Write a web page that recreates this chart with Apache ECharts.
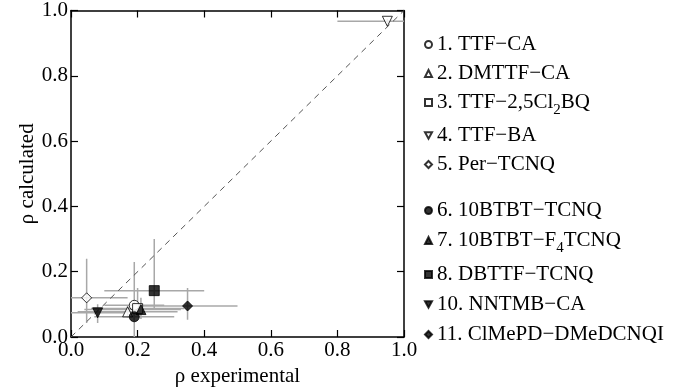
<!DOCTYPE html>
<html>
<head>
<meta charset="utf-8">
<script src="https://cdn.jsdelivr.net/npm/echarts@6/dist/echarts.min.js"></script>
<style>html,body{margin:0;padding:0;background:#fff}#chartmain{width:700px;height:392px}</style>
</head>
<body>
<div id="chartmain"></div>
<script>
// compound names, legend order
var names = ['1. TTF−CA', '2. DMTTF−CA', '3. TTF−2,5Cl2BQ', '4. TTF−BA', '5. Per−TCNQ',
             '6. 10BTBT−TCNQ', '7. 10BTBT−F4TCNQ', '8. DBTTF−TCNQ', '10. NNTMB−CA', '11. ClMePD−DMeDCNQI'];
var symbols = ['circle', 'triangle', 'rect', 'triangle', 'diamond',
               'circle', 'triangle', 'rect', 'triangle', 'diamond'];
var rotates = [0, 0, 0, 180, 0, 0, 0, 0, 180, 0];
var filled = [false, false, false, false, false, true, true, true, true, true];
// rho experimental / rho calculated
var rhoExp  = [0.19, 0.17, 0.20, 0.95, 0.047, 0.19, 0.21, 0.25, 0.08, 0.35];
var rhoCalc = [0.097, 0.077, 0.087, 0.967, 0.12, 0.062, 0.084, 0.142, 0.074, 0.095];
// error ranges
var expLo  = [0.10, 0.02, 0.06, 0.80, -0.07, 0.07, 0.04, 0.10, 0.00, 0.20];
var expHi  = [0.28, 0.32, 0.34, 1.10, 0.17, 0.31, 0.33, 0.40, 0.16, 0.50];
var calcLo = [0.053, 0.06, 0.065, 0.96, 0.043, 0.00, 0.055, 0.083, 0.043, 0.053];
var calcHi = [0.23, 0.095, 0.15, 0.975, 0.24, 0.08, 0.12, 0.30, 0.10, 0.15];

var font = 'Liberation Serif';
var fs = 21;
var downTri = 'path://M0,0L10,0L5,9Z';

var errData = [];
for (var i = 0; i < names.length; i++) {
    errData.push([rhoExp[i], rhoCalc[i], expLo[i], expHi[i], calcLo[i], calcHi[i]]);
}

var series = [];
//误差棒
series.push({
    type: 'custom',
    name: 'err',
    clip: true,
    z: 1,
    silent: true,
    encode: {x: 0, y: 1},
    data: errData,
    renderItem: function (params, api) {
        var x = api.value(0), y = api.value(1);
        var a = api.coord([api.value(2), y]), b = api.coord([api.value(3), y]);
        var c = api.coord([x, api.value(4)]), d = api.coord([x, api.value(5)]);
        var st = {stroke: '#a8a8a8', lineWidth: 1.5, fill: null};
        return {type: 'group', children: [
            {type: 'line', shape: {x1: a[0], y1: a[1], x2: b[0], y2: b[1]}, style: st},
            {type: 'line', shape: {x1: c[0], y1: c[1], x2: d[0], y2: d[1]}, style: st}
        ]};
    }
});
//对角线
series.push({
    type: 'line',
    name: 'diag',
    data: [[0, 0], [1, 1]],
    symbol: 'none',
    z: 2,
    silent: true,
    lineStyle: {color: '#555', width: 1, type: [6, 5]}
});
for (var j = 0; j < names.length; j++) {
    series.push({
        type: 'scatter',
        name: names[j],
        data: [[rhoExp[j], rhoCalc[j]]],
        symbol: symbols[j],
        symbolRotate: rotates[j],
        symbolSize: 10,
        z: 5,
        itemStyle: {
            color: filled[j] ? '#000' : '#fff',
            borderColor: '#000',
            borderWidth: 1
        }
    });
}

function legendFmt(name) {
    return name.replace('Cl2BQ', 'Cl{s|2}BQ').replace('F4TCNQ', 'F{s|4}TCNQ');
}
function legendData(from, to) {
    var out = [];
    for (var k = from; k < to; k++) {
        var item = {name: names[k]};
        if (rotates[k] === 180) item.icon = downTri;   // 倒三角
        out.push(item);
    }
    return out;
}
var legendText = {
    fontFamily: font, fontSize: fs, color: '#000', lineHeight: 23,
    rich: {s: {fontFamily: font, fontSize: 15, color: '#000', padding: [16, 0, 0, 0]}}
};

function makeAxis(pos, withLabel, name, gap) {
    var ax = {
        type: 'value', position: pos,
        min: 0, max: 1, interval: 0.2,
        axisLine: {onZero: false, lineStyle: {color: '#000', width: 1.5}},
        axisTick: {show: true, inside: true, length: 7, lineStyle: {color: '#000', width: 1.2}},
        splitLine: {show: false},
        axisLabel: {show: false}
    };
    if (withLabel) {
        ax.name = name;
        ax.nameLocation = 'middle';
        ax.nameGap = gap;
        ax.nameTextStyle = {fontFamily: font, fontSize: fs, color: '#000'};
        ax.axisLabel = {show: true, fontFamily: font, fontSize: fs, color: '#000', margin: 3,
            formatter: function (v) { return v.toFixed(1); }};
    }
    return ax;
}

var option = {
    animation: false,
    backgroundColor: '#fff',
    grid: {left: 71, right: 296, top: 6, bottom: 51},
    xAxis: [makeAxis('bottom', true, 'ρ experimental', 29), makeAxis('top', false)],
    yAxis: [makeAxis('left', true, 'ρ calculated', 30), makeAxis('right', false)],
    legend: [
        {
            data: legendData(0, 5), orient: 'vertical', left: 419, top: 28,
            itemWidth: 7, itemHeight: 7, itemGap: 6,
            formatter: legendFmt, textStyle: legendText
        },
        {
            data: legendData(5, 10), orient: 'vertical', left: 419, top: 194,
            itemWidth: 7, itemHeight: 7, itemGap: 7,
            formatter: legendFmt, textStyle: legendText
        }
    ],
    series: series
};

var myChart = echarts.init(document.getElementById('chartmain'));
myChart.setOption(option);
</script>
</body>
</html>
